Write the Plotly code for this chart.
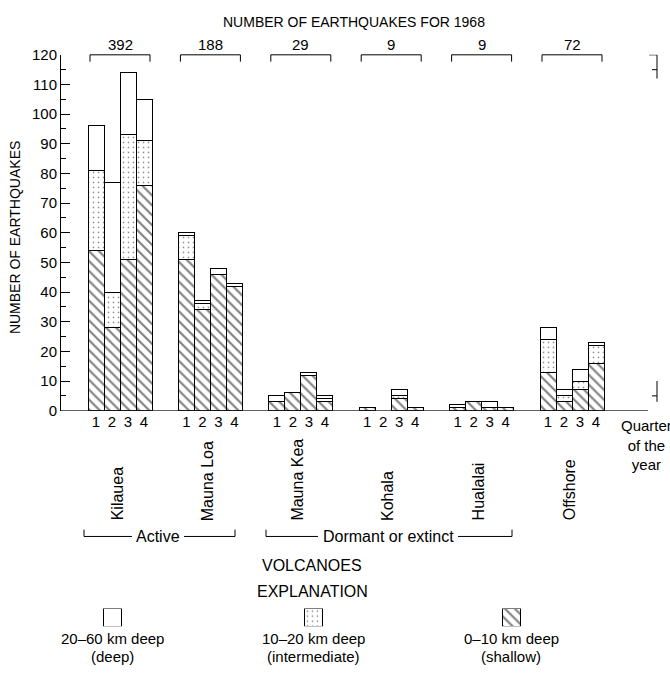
import plotly.graph_objects as go

W, H = 670, 679

# ---------------- data ----------------
volcanoes = ["Kilauea", "Mauna Loa", "Mauna Kea", "Kohala", "Hualalai", "Offshore"]
year_totals = ["392", "188", "29", "9", "9", "72"]
quarters = ["1", "2", "3", "4"]
y_ticks = [0, 10, 20, 30, 40, 50, 60, 70, 80, 90, 100, 110, 120]

# per volcano, quarters 1-4
shallow = [[54, 28, 51, 76], [51, 34, 46, 42], [3, 6, 12, 3], [1, 0, 4, 1], [1, 3, 1, 1], [13, 3, 7, 16]]
intermediate = [[27, 12, 42, 15], [8, 2, 0, 0], [0, 0, 0, 1], [0, 0, 1, 0], [0, 0, 0, 0], [11, 2, 3, 6]]
deep = [[15, 37, 21, 14], [1, 1, 2, 1], [2, 0, 1, 1], [0, 0, 2, 0], [1, 0, 2, 0], [4, 2, 4, 1]]

legend_line1 = ["20–60 km deep", "10–20 km deep", "0–10 km deep"]
legend_line2 = ["(deep)", "(intermediate)", "(shallow)"]

# ---------------- layout helpers ----------------
FONT = "Liberation Sans, Arial, sans-serif"
def px(x):
    return x / W
def py(y):
    return 1 - y / H

PLOT_L, PLOT_R, PLOT_T, PLOT_B = 61, 660, 47, 412
BAR_W = 16
GROUP0, GROUP_STEP = 120, 90.4
centers = [GROUP0 + GROUP_STEP * i for i in range(len(volcanoes))]

xs, ticktext = [], []
for c in centers:
    for q in range(4):
        xs.append(c + (q - 1.5) * BAR_W)
        ticktext.append(quarters[q])

def flat(arr):
    return [v if v != 0 else None for row in arr for v in row]

fig = go.Figure()

pat_shallow = dict(shape="\\", size=7, solidity=0.3, fgcolor="black", bgcolor="white")
pat_inter = dict(shape=".", size=5, solidity=0.09, fgcolor="black", bgcolor="white")

for name, arr, pat in [("shallow", shallow, pat_shallow),
                       ("intermediate", intermediate, pat_inter),
                       ("deep", deep, None)]:
    marker = dict(color="white", line=dict(color="black", width=1))
    if pat:
        marker["pattern"] = pat
    fig.add_trace(go.Bar(x=xs, y=flat(arr), width=BAR_W, marker=marker,
                         name=name, showlegend=False, hoverinfo="skip"))

# legend boxes as bars on their own axes
leg_x = [112, 313, 511]
leg_pats = [None, pat_inter, pat_shallow]
for lx, pat in zip(leg_x, leg_pats):
    marker = dict(color="white", line=dict(color="black", width=1))
    if pat:
        marker["pattern"] = pat
    fig.add_trace(go.Bar(x=[lx], y=[1], width=18, marker=marker, xaxis="x2", yaxis="y2",
                         showlegend=False, hoverinfo="skip"))

fig.update_layout(
    width=W, height=H, autosize=False,
    margin=dict(l=0, r=0, t=0, b=0),
    paper_bgcolor="white", plot_bgcolor="white",
    barmode="stack",
    font=dict(family=FONT, size=15, color="black"),
    xaxis=dict(domain=[px(PLOT_L), px(PLOT_R)], range=[PLOT_L, PLOT_R], showgrid=False,
               zeroline=False, showline=False, tickmode="array", tickvals=xs, ticktext=ticktext,
               ticks="", tickfont=dict(size=15), fixedrange=True),
    yaxis=dict(domain=[py(PLOT_B), py(PLOT_T)], range=[0, 120], showgrid=False, zeroline=False,
               showline=True, linecolor="black", linewidth=1, tickmode="array", tickvals=y_ticks,
               ticks="inside", ticklen=9, tickcolor="black", tickwidth=1,
               minor=dict(tickmode="linear", tick0=0, dtick=5, ticks="inside", ticklen=5,
                          tickcolor="black", tickwidth=1),
               tickfont=dict(size=15), fixedrange=True),
    xaxis2=dict(domain=[0, 1], range=[0, W], visible=False, anchor="y2", fixedrange=True),
    yaxis2=dict(domain=[py(633), py(615)], range=[0, 1], visible=False, anchor="x2", fixedrange=True),
)

shapes = []
ann = []
line = dict(color="black", width=1)

# baseline
shapes.append(dict(type="line", xref="x", yref="y", x0=PLOT_L, x1=648, y0=0, y1=0, line=line))

# faded right-axis fragments
RX = 657
shapes.append(dict(type="line", xref="x", yref="y", x0=RX, x1=RX, y0=120, y1=112, line=line))
shapes.append(dict(type="line", xref="x", yref="y", x0=RX - 8, x1=RX, y0=120, y1=120, line=line))
shapes.append(dict(type="line", xref="x", yref="y", x0=RX - 5, x1=RX, y0=115, y1=115, line=line))
shapes.append(dict(type="line", xref="x", yref="y", x0=RX, x1=RX, y0=10, y1=3, line=line))
shapes.append(dict(type="line", xref="x", yref="y", x0=RX - 5, x1=RX, y0=5, y1=5, line=line))

# top brackets and totals
BR_Y = 47
for c, t in zip(centers, year_totals):
    l, r = c - 30, c + 30
    shapes.append(dict(type="line", xref="x", yref="paper", x0=l, x1=r, y0=py(BR_Y), y1=py(BR_Y), line=line))
    shapes.append(dict(type="line", xref="x", yref="paper", x0=l, x1=l, y0=py(BR_Y), y1=py(BR_Y + 7), line=line))
    shapes.append(dict(type="line", xref="x", yref="paper", x0=r, x1=r, y0=py(BR_Y), y1=py(BR_Y + 7), line=line))
    ann.append(dict(x=c, y=py(36), xref="x", yref="paper", text=t, showarrow=False,
                    font=dict(size=15), xanchor="center", yanchor="middle"))

# title
ann.append(dict(x=px(354), y=py(13), xref="paper", yref="paper", text="NUMBER OF EARTHQUAKES FOR 1968",
                showarrow=False, font=dict(size=14), xanchor="center", yanchor="middle"))
# y title
ann.append(dict(x=px(15), y=py(235), xref="paper", yref="paper", text="NUMBER OF EARTHQUAKES",
                showarrow=False, textangle=-90, font=dict(size=14), xanchor="center", yanchor="middle"))

# volcano names
for c, n in zip(centers, volcanoes):
    ann.append(dict(x=c - 3, y=py(527), xref="x", yref="paper", text=n, showarrow=False,
                    textangle=-90, font=dict(size=16), xanchor="center", yanchor="bottom"))

# quarter label
ann.append(dict(x=px(646), y=py(416), xref="paper", yref="paper", text="Quarter<br>of the<br>year",
                showarrow=False, font=dict(size=15), xanchor="center", yanchor="top", align="center"))

# Active / Dormant brackets
def bracket(x0, x1, y, gap0, gap1, text, tc):
    shapes.append(dict(type="line", xref="paper", yref="paper", x0=px(x0), x1=px(gap0), y0=py(y), y1=py(y), line=line))
    shapes.append(dict(type="line", xref="paper", yref="paper", x0=px(gap1), x1=px(x1), y0=py(y), y1=py(y), line=line))
    shapes.append(dict(type="line", xref="paper", yref="paper", x0=px(x0), x1=px(x0), y0=py(y), y1=py(y - 7), line=line))
    shapes.append(dict(type="line", xref="paper", yref="paper", x0=px(x1), x1=px(x1), y0=py(y), y1=py(y - 7), line=line))
    ann.append(dict(x=px(tc), y=py(y), xref="paper", yref="paper", text=text, showarrow=False,
                    font=dict(size=16), xanchor="center", yanchor="middle"))

bracket(84, 235, 541, 132, 184, "Active", 158)
bracket(266, 512, 541, 318, 458, "Dormant or extinct", 388)

ann.append(dict(x=px(312), y=py(571), xref="paper", yref="paper", text="VOLCANOES", showarrow=False,
                font=dict(size=16), xanchor="center", yanchor="middle"))
ann.append(dict(x=px(312), y=py(597), xref="paper", yref="paper", text="EXPLANATION", showarrow=False,
                font=dict(size=16), xanchor="center", yanchor="middle"))
for lx, l1, l2 in zip(leg_x, legend_line1, legend_line2):
    ann.append(dict(x=px(lx), y=py(646), xref="paper", yref="paper", text=l1, showarrow=False,
                    font=dict(size=15), xanchor="center", yanchor="middle"))
    ann.append(dict(x=px(lx), y=py(664), xref="paper", yref="paper", text=l2, showarrow=False,
                    font=dict(size=15), xanchor="center", yanchor="middle"))

fig.update_layout(shapes=shapes, annotations=ann)
fig.write_html("out.html", config={"displayModeBar": False},
               post_script="document.body.style.margin='0';document.body.style.overflow='hidden';")
